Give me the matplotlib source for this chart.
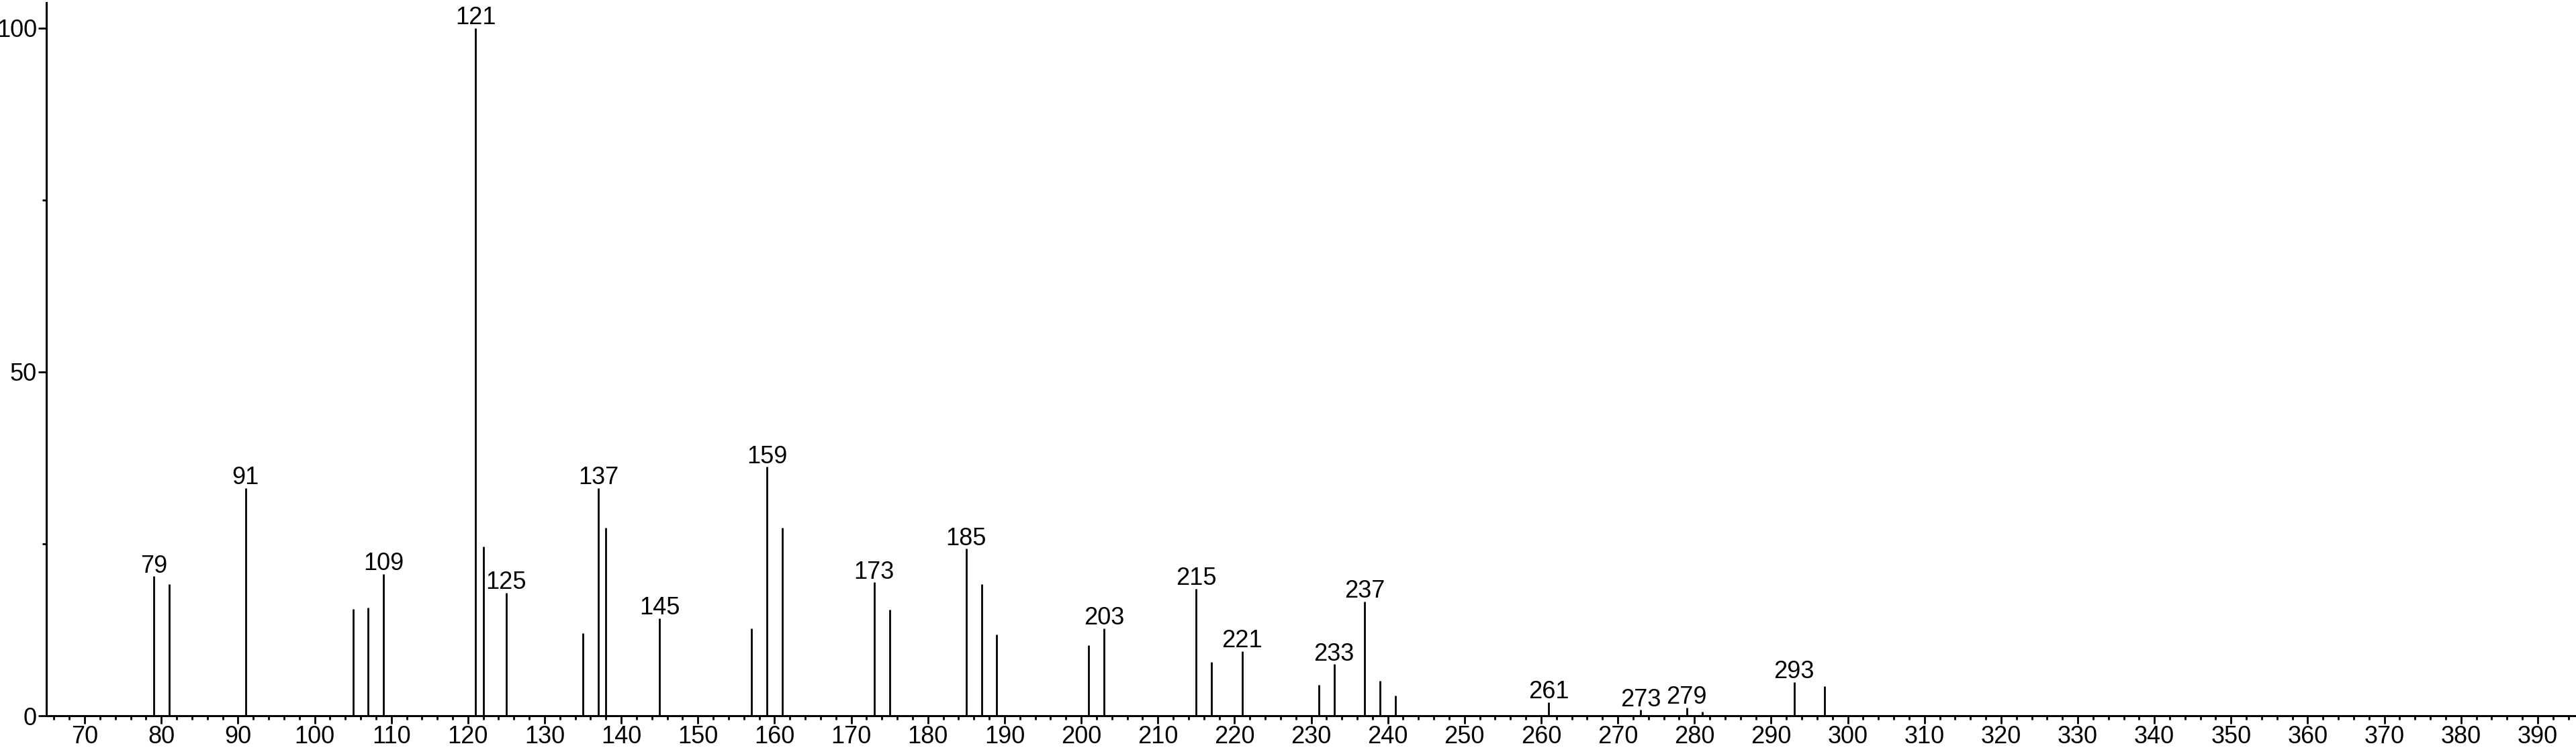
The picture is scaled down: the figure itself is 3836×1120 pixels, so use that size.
import matplotlib
matplotlib.use("Agg")
import matplotlib.pyplot as plt
from matplotlib.ticker import MultipleLocator

plt.rcParams['font.family'] = ['Liberation Sans Narrow', 'Liberation Sans', 'DejaVu Sans']

# m/z values and relative intensities (%)
mz = [79, 81, 91, 105, 107, 109, 121, 122, 125, 135, 137, 138, 145, 157, 159,
      161, 173, 175, 185, 187, 189, 201, 203, 215, 217, 221, 231, 233, 237,
      239, 241, 261, 273, 279, 281, 293, 297]
intensity = [20.3, 19.1, 33.1, 15.5, 15.7, 20.6, 100.0, 24.6, 17.9, 12.0, 33.1,
             27.3, 14.2, 12.7, 36.2, 27.3, 19.4, 15.4, 24.3, 19.1, 11.8, 10.3,
             12.7, 18.5, 7.8, 9.4, 4.5, 7.5, 16.6, 5.1, 2.9, 2.0, 0.85, 1.2,
             0.6, 4.9, 4.3]
labeled_peaks = [79, 91, 109, 121, 125, 137, 145, 159, 173, 185, 203, 215, 221,
                 233, 237, 261, 273, 279, 293]

x_major_ticks = list(range(70, 391, 10))
y_major_ticks = [0, 50, 100]

W, H = 3836, 1120
fig = plt.figure(figsize=(W / 100, H / 100), dpi=100)
ax = fig.add_axes([69 / W, (H - 1066) / H, (W - 69) / W, (1066 - 4) / H])

ax.vlines(mz, 0, intensity, colors='black', linewidth=2.0)

for m, v in zip(mz, intensity):
    if m in labeled_peaks:
        ax.annotate(str(m), xy=(m, v), xytext=(0, 4), textcoords='offset points',
                    ha='center', va='baseline', fontsize=26, color='black')

ax.set_xlim(65, 395)
ax.set_ylim(0, 103.7)

for side in ['top', 'right']:
    ax.spines[side].set_visible(False)
for side in ['left', 'bottom']:
    ax.spines[side].set_linewidth(2.2)

ax.set_xticks(x_major_ticks)
ax.set_xticklabels([str(t) for t in x_major_ticks])
ax.xaxis.set_minor_locator(MultipleLocator(2))
ax.set_yticks(y_major_ticks)
ax.set_yticklabels([str(t) for t in y_major_ticks])
ax.yaxis.set_minor_locator(MultipleLocator(25))

ax.tick_params(axis='both', which='major', length=8.5, width=2.0,
               labelsize=26, direction='out', pad=1.5)
ax.tick_params(axis='both', which='minor', length=4.3, width=2.0, direction='out')

fig.savefig('out.png', dpi=100, facecolor='white')
